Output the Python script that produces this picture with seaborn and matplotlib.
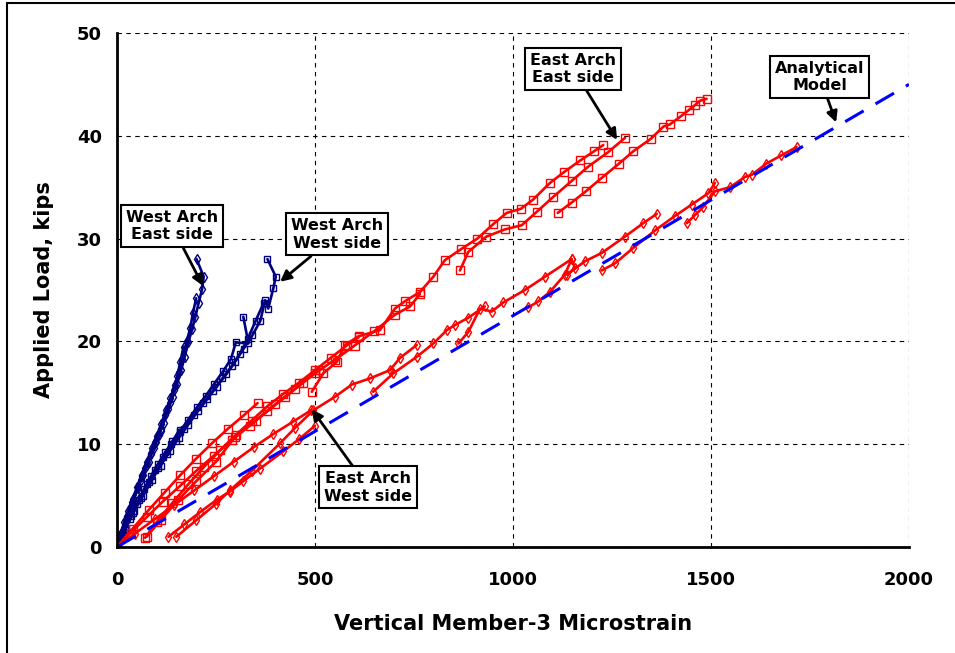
import numpy as np
import pandas as pd
import seaborn as sns
import matplotlib.pyplot as plt
from matplotlib.lines import Line2D

# ---- data (microstrain, kips), one inner list per load cycle ----
wa_east_strain = [
    [0, 8, 18, 28, 40, 52, 63, 75, 86, 98, 110],
    [0, 10, 22, 35, 48, 60, 72, 85, 97, 110, 122, 133, 143, 152, 160, 168],
    [0, 12, 25, 38, 50, 62, 75, 88, 100, 112, 124, 135, 146, 156, 165, 176, 185, 192, 200],
    [0, 14, 27, 40, 53, 66, 80, 93, 106, 118, 130, 141, 152, 162, 171, 180, 190, 198, 206, 215, 219, 201],
]
wa_east_load = [
    [0, 1.2, 2.4, 3.5, 4.7, 5.8, 6.9, 8.0, 9.1, 10.2, 11.3],
    [0, 1.3, 2.6, 4.0, 5.2, 6.5, 7.7, 9.0, 10.2, 11.5, 12.8, 14.0, 15.3, 16.6, 18.0, 19.5],
    [0, 1.5, 3.0, 4.4, 5.8, 7.0, 8.3, 9.6, 10.8, 12.0, 13.3, 14.5, 15.8, 17.0, 18.3, 20.0, 21.3, 22.8, 24.2],
    [0, 1.6, 3.1, 4.4, 5.7, 7.0, 8.3, 9.6, 10.9, 12.1, 13.4, 14.6, 15.9, 17.2, 18.5, 19.9, 21.2, 22.4, 23.7, 25.1, 26.3, 28.0],
]

wa_west_strain = [
    [0, 15, 32, 50, 68, 86, 104, 122, 140, 158],
    [0, 18, 36, 56, 76, 96, 116, 136, 158, 180, 202, 224, 246, 268, 288, 300, 332, 319],
    [0, 20, 40, 60, 82, 104, 126, 148, 170, 194, 218, 242, 266, 290, 310, 330, 350, 370],
    [0, 22, 44, 66, 88, 110, 133, 156, 180, 204, 228, 252, 276, 298, 320, 342, 362, 374, 382, 395, 401, 380],
]
wa_west_load = [
    [0, 1.3, 2.7, 4.2, 5.6, 6.9, 8.1, 9.2, 10.3, 11.4],
    [0, 1.5, 3.0, 4.6, 6.1, 7.5, 8.8, 10.0, 11.2, 12.4, 13.6, 14.7, 15.9, 17.1, 18.3, 19.9, 19.8, 22.4],
    [0, 1.7, 3.3, 4.8, 6.3, 7.7, 9.0, 10.3, 11.5, 12.8, 14.0, 15.2, 16.4, 17.6, 18.8, 20.2, 22.0, 23.7],
    [0, 1.8, 3.5, 5.0, 6.5, 7.9, 9.3, 10.6, 11.9, 13.2, 14.4, 15.6, 16.8, 18.0, 19.3, 20.6, 22.0, 24.0, 23.2, 25.2, 26.3, 28.0],
]

ea_east_strain = [
    [0, 40, 80, 120, 160, 200, 240, 280, 320, 355],
    [0, 35, 75, 115, 158, 200, 245, 290, 335, 380, 425, 470, 510],
    [71, 100, 140, 180, 220, 260, 300, 340, 380, 420, 460, 500, 540, 580, 610],
    [75, 110, 155, 200, 250, 298, 350, 400, 450, 500, 550, 600, 650, 702, 740, 765],
    [492, 521, 555, 576, 610, 664, 702, 727, 765, 799, 828, 870, 910, 950, 984, 1020, 1051, 1093, 1130, 1170, 1205, 1228],
    [866, 887, 933, 980, 1022, 1060, 1100, 1148, 1190, 1240, 1283],
    [1113, 1148, 1184, 1224, 1268, 1304, 1348, 1380, 1396, 1424, 1444, 1460, 1472, 1489],
]
ea_east_load = [
    [0, 1.8, 3.6, 5.3, 7.0, 8.6, 10.1, 11.5, 12.8, 14.0],
    [0, 1.4, 2.9, 4.4, 5.9, 7.4, 8.9, 10.4, 11.8, 13.2, 14.6, 16.0, 17.2],
    [0.9, 2.4, 4.3, 6.1, 7.8, 9.4, 10.9, 12.3, 13.7, 14.9, 16.0, 17.2, 18.4, 19.6, 20.4],
    [1.0, 2.6, 4.6, 6.4, 8.3, 10.7, 12.3, 13.9, 15.4, 16.9, 18.2, 19.6, 21.0, 22.6, 23.4, 24.6],
    [15.1, 16.9, 18.0, 19.65, 20.5, 21.1, 23.2, 23.9, 24.8, 26.3, 27.9, 29.0, 30.0, 31.4, 32.5, 32.9, 33.8, 35.4, 36.5, 37.6, 38.5, 39.1],
    [26.9, 28.7, 30.2, 30.9, 31.3, 32.6, 34.0, 35.6, 37.0, 38.4, 39.8],
    [32.5, 33.5, 34.6, 35.9, 37.3, 38.5, 39.7, 40.9, 41.1, 41.9, 42.5, 43.0, 43.4, 43.6],
]

ea_west_strain = [
    [130, 170, 210, 252, 285, 319, 360, 420, 460, 500],
    [150, 200, 250, 285, 340, 412, 450, 496, 550, 593, 639, 689, 715, 757],
    [0, 45, 95, 145, 195, 245, 295, 345, 395, 445, 490],
    [647, 698, 757, 799, 833, 854, 887, 929],
    [862, 887, 917, 946, 976, 1030, 1081, 1148, 1157, 1136, 1182, 1224, 1283, 1329, 1363],
    [1039, 1064, 1093, 1131, 1148],
    [1224, 1258, 1304, 1359, 1409, 1451, 1493, 1510],
    [1439, 1460, 1481, 1510, 1548, 1586, 1603, 1640, 1678, 1716],
]
ea_west_load = [
    [1.0, 2.2, 3.4, 4.6, 5.4, 6.4, 7.6, 9.3, 10.5, 11.8],
    [1.0, 2.6, 4.2, 5.5, 7.4, 10.1, 11.6, 13.3, 14.6, 15.8, 16.4, 17.2, 18.4, 19.65],
    [0, 1.3, 2.7, 4.1, 5.5, 6.9, 8.3, 9.7, 11.0, 12.2, 13.3],
    [15.1, 16.9, 18.5, 19.8, 21.1, 21.6, 22.3, 23.4],
    [19.8, 20.9, 23.2, 22.9, 23.8, 25.0, 26.3, 28.0, 27.1, 26.5, 27.8, 28.6, 30.2, 31.5, 32.4],
    [23.3, 23.9, 24.8, 26.5, 28.0],
    [26.9, 27.6, 29.1, 30.8, 32.2, 33.3, 34.4, 35.4],
    [31.5, 32.3, 33.1, 34.6, 35.0, 36.0, 36.2, 37.3, 38.1, 38.9],
]

model_strain = [0, 2000]
model_load = [0, 45]


def to_frame(strain, load):
    rows = []
    for i, (xs, ys) in enumerate(zip(strain, load)):
        for x, y in zip(xs, ys):
            rows.append({'cycle': i, 'strain': x, 'load': y})
    return pd.DataFrame(rows)


sns.set_style('white')
plt.rcParams['font.family'] = ['DejaVu Sans']
plt.rcParams['font.weight'] = 'bold'
for key in ['text.color', 'axes.labelcolor', 'xtick.color', 'ytick.color']:
    plt.rcParams[key] = 'black'

fig = plt.figure(figsize=(9.55, 6.53), dpi=100)
ax = fig.add_axes([0.1225, 0.1623, 0.8293, 0.7872])

navy = '#000080'
red = '#FF0000'

series = [
    (wa_east_strain, wa_east_load, navy, 'd', 5),
    (wa_west_strain, wa_west_load, navy, 's', 5),
    (ea_east_strain, ea_east_load, red, 's', 6),
    (ea_west_strain, ea_west_load, red, 'd', 5),
]
for strain, load, color, mk, ms in series:
    df = to_frame(strain, load)
    sns.lineplot(data=df, x='strain', y='load', units='cycle', estimator=None, sort=False,
                 color=color, lw=1.9, marker=mk, markersize=ms, markerfacecolor='none',
                 markeredgecolor=color, markeredgewidth=1.0, ax=ax, legend=False)

# analytical model
sns.lineplot(x=model_strain, y=model_load, color='#0000FF', lw=2.2, ax=ax, legend=False)
ax.lines[-1].set_dashes([7, 4.5])

ax.set_xlim(0, 2000)
ax.set_ylim(0, 50)
ax.set_xticks([0, 500, 1000, 1500, 2000])
ax.set_yticks([0, 10, 20, 30, 40, 50])
ax.grid(True, color='black', ls=(0, (4, 4)), lw=0.8)
for s in ['top', 'right']:
    ax.spines[s].set_visible(False)
for s in ['left', 'bottom']:
    ax.spines[s].set_color('black')
    ax.spines[s].set_linewidth(2)
ax.tick_params(axis='x', direction='inout', length=10, width=1.5, labelsize=13, pad=12)
ax.tick_params(axis='y', direction='out', length=6, width=1.5, labelsize=13, pad=5)
for lab in ax.get_xticklabels() + ax.get_yticklabels():
    lab.set_fontweight('bold')

ax.set_xlabel('Vertical Member-3 Microstrain', fontsize=15, fontweight='bold', labelpad=18)
ax.set_ylabel('Applied Load, kips', fontsize=15, fontweight='bold', labelpad=16)

box = dict(boxstyle='square,pad=0.3', fc='white', ec='black', lw=1.5)
arrow = dict(arrowstyle='-|>', color='black', lw=2, mutation_scale=16, shrinkA=0, shrinkB=0)
notes = [
    ('West Arch\nEast side', (217, 25.4), (139, 31.2)),
    ('West Arch\nWest side', (412, 25.8), (556, 30.4)),
    ('East Arch\nEast side', (1263, 39.6), (1152, 46.5)),
    ('Analytical\nModel', (1816, 41.3), (1775, 45.7)),
    ('East Arch\nWest side', (492, 13.4), (634, 5.8)),
]
for txt, tip, pos in notes:
    ax.annotate(txt, xy=tip, xytext=pos, ha='center', va='center', fontsize=11.5,
                fontweight='bold', bbox=box, arrowprops=arrow, zorder=10)

# thin frame around the figure
fig.add_artist(Line2D([0.0073, 0.0073], [0, 0.9954], transform=fig.transFigure, color='black', lw=1.5))
fig.add_artist(Line2D([0.0073, 1], [0.9954, 0.9954], transform=fig.transFigure, color='black', lw=1.5))

fig.savefig('out.png', dpi=100)
